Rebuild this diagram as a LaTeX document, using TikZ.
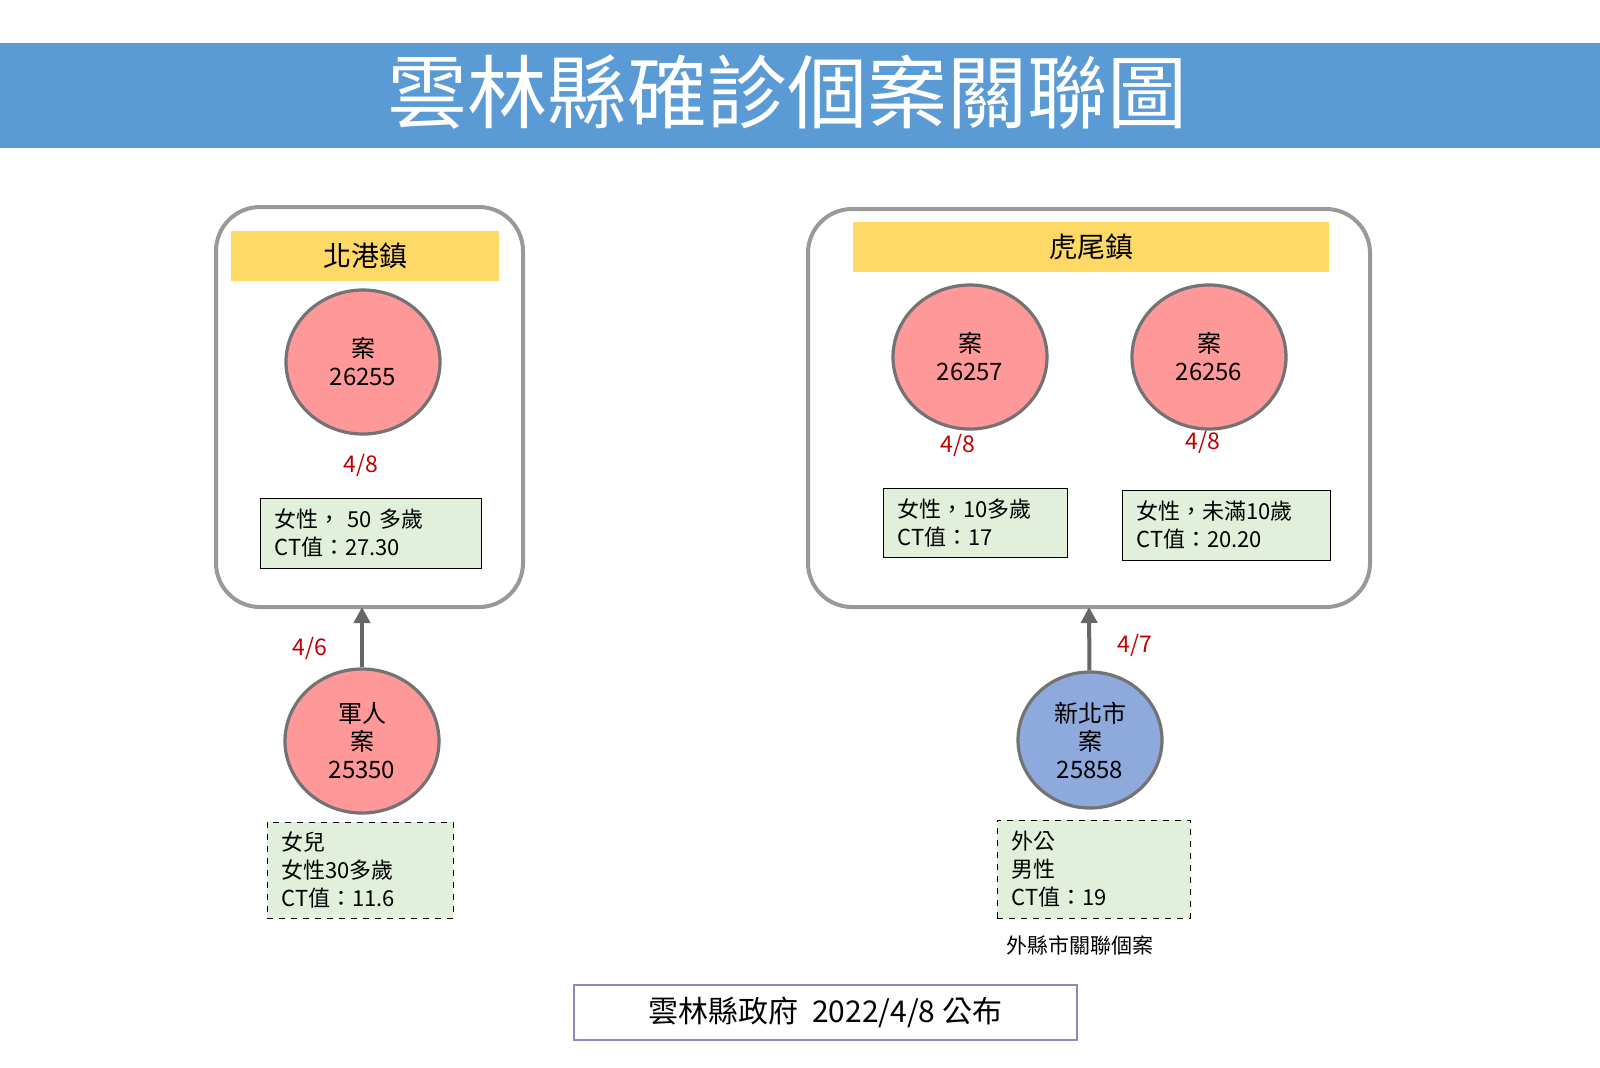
\documentclass[tikz,border=0pt]{standalone}
\usepackage{fontspec}
\setmainfont{Noto Sans CJK TC}
\usetikzlibrary{shapes.geometric,arrows.meta}
\definecolor{banner}{HTML}{5B9BD5}
\definecolor{yel}{HTML}{FFD966}
\definecolor{pinkc}{HTML}{FF9999}
\definecolor{bluec}{HTML}{8EA9DB}
\definecolor{grn}{HTML}{E2EFDA}
\definecolor{redt}{HTML}{C00000}
\begin{document}
\begin{tikzpicture}[x=0.5pt,y=-0.5pt,
  cont/.style={draw=gray!80,line width=2pt,rounded corners=22pt},
  circ/.style={ellipse,draw=gray!90!black,line width=1.6pt,fill=pinkc,minimum width=77pt,minimum height=72pt,align=center,font=\fontsize{12}{14}\selectfont,inner sep=0pt},
  info/.style={draw,fill=grn,align=left,font=\fontsize{11}{14}\selectfont,anchor=north west,inner xsep=7pt,inner ysep=4pt},
  date/.style={text=redt,font=\fontsize{11.5}{13}\selectfont},
  arr/.style={draw=gray!80!black,line width=2pt,-{Triangle[length=8pt,width=8pt]}}]
\useasboundingbox (0,0) rectangle (1600,1067);
\fill[white] (0,0) rectangle (1600,1067);
\fill[banner] (0,43) rectangle (1600,148);
\node[text=white,font=\fontsize{40}{42}\selectfont] (title) at (787,92) {雲林縣確診個案關聯圖};
% left
\draw[cont] (216,207) rectangle (523,607);
\coordinate (lbot) at (362,607);
\fill[yel] (231,231) rectangle (499,281);
\node[font=\fontsize{14}{16}\selectfont] (lt) at (365,256) {北港鎮};
\node[circ] (c1) at (363,362) {案\\26255};
\node[date] (d1) at (361,465) {4/8};
\node[info,text width=96.5pt,minimum height=35pt] (b1) at (260,498) {女性， 50 多歲\\CT值：27.30};
\node[circ] (c2) at (362,741) {軍人\\案\\25350};
\draw[arr] (c2) -- (lbot);
\node[date] (d2) at (310,648) {4/6};
\node[info,dashed,text width=79pt,minimum height=48pt] (b2) at (267,822) {女兒\\女性30多歲\\CT值：11.6};
% right
\draw[cont] (808,209) rectangle (1370,607);
\coordinate (rbot) at (1089,607);
\fill[yel] (853,222) rectangle (1329,272);
\node[font=\fontsize{14}{16}\selectfont] (rt) at (1091,247) {虎尾鎮};
\node[circ] (c3) at (970,357) {案\\26257};
\node[circ] (c4) at (1209,357) {案\\26256};
\node[date] (d3) at (958,445) {4/8};
\node[date] (d4) at (1203,442) {4/8};
\node[info,text width=78pt,minimum height=34.5pt] (b3) at (883,488) {女性，10多歲\\CT值：17};
\node[info,text width=90pt,minimum height=35pt] (b4) at (1122,490) {女性，未滿10歲\\CT值：20.20};
\node[circ,fill=bluec,minimum width=72pt,minimum height=68pt] (c5) at (1090,740) {新北市\\案\\25858};
\draw[arr] (c5) -- (rbot);
\node[date] (d5) at (1135,645) {4/7};
\node[info,dashed,text width=82.5pt,minimum height=49pt] (b5) at (997,820) {外公\\男性\\CT值：19};
\node[font=\fontsize{10.5}{12}\selectfont] (cap) at (1080,945) {外縣市關聯個案};
\node[draw=blue!30!gray!70,line width=1pt,minimum width=251.5pt,minimum height=27.5pt,font=\fontsize{15}{17}\selectfont] (foot) at (825.5,1012.5) {雲林縣政府\ \ 2022/4/8 公布};
\end{tikzpicture}
\end{document}
